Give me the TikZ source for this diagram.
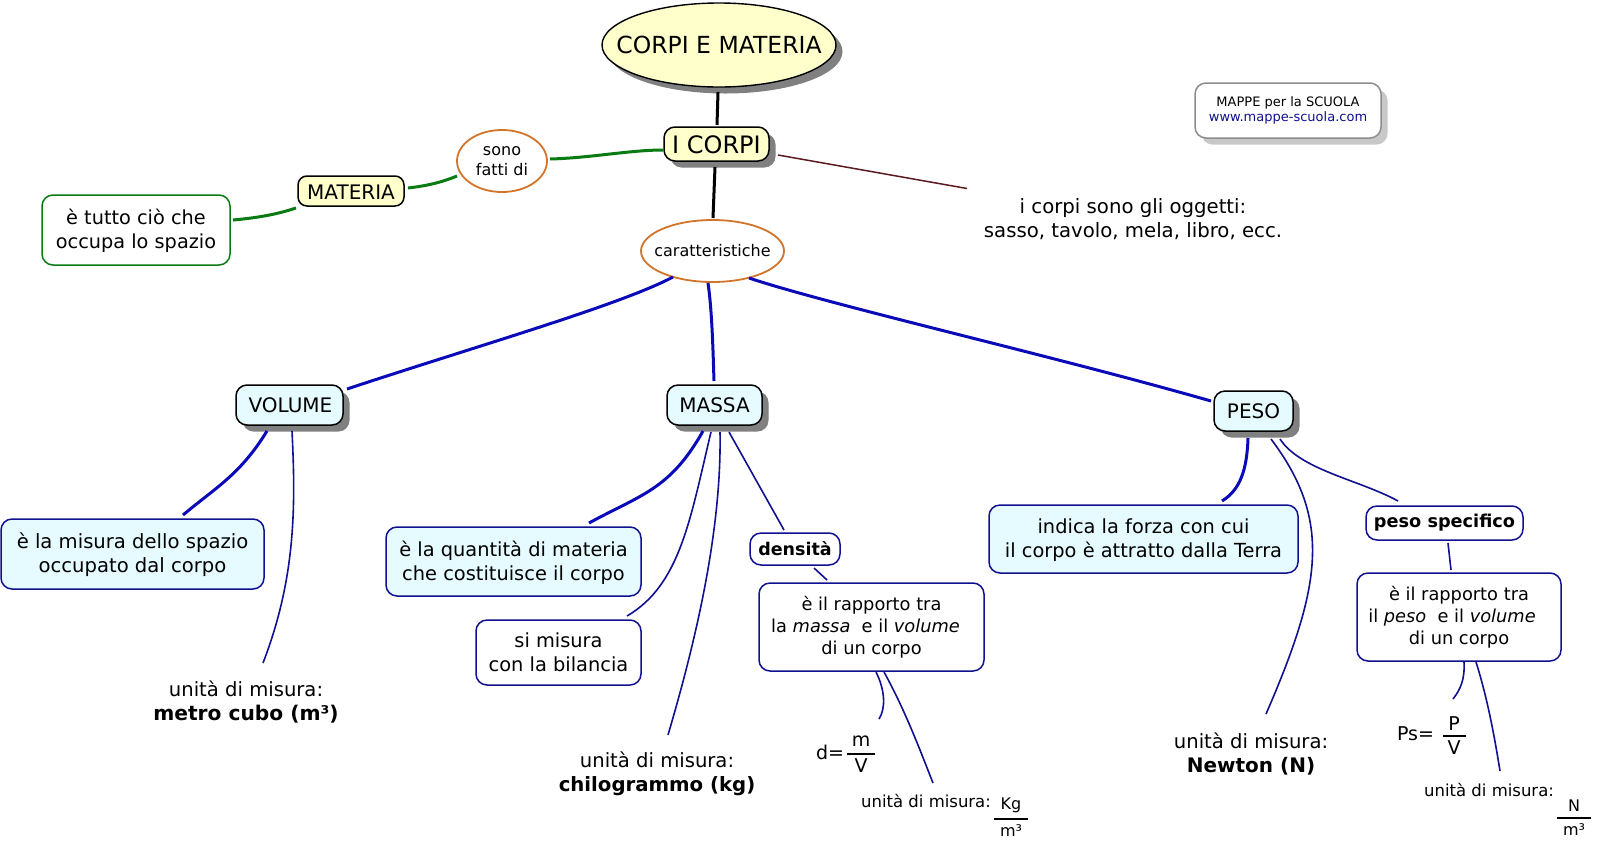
\documentclass[tikz,border=0pt]{standalone}
\usepackage{fontspec}
\setmainfont{DejaVu Sans}
\usetikzlibrary{calc,shapes.geometric,shadows}
\definecolor{lyellow}{HTML}{FFFFCC}
\definecolor{lblue}{HTML}{E5FBFF}
\definecolor{orangeb}{HTML}{D2742A}
\definecolor{greenb}{HTML}{0A7A12}
\definecolor{blueb}{HTML}{0A0AB8}
\definecolor{navyb}{HTML}{101090}
\definecolor{redb}{HTML}{5A1A20}
\definecolor{shadowg}{HTML}{808080}
\definecolor{shadowl}{HTML}{C8C8C8}
\newcommand{\dn}{\rule{0pt}{17.5pt}}
\tikzset{
  base/.style={inner sep=0pt,outer sep=0pt,align=center,text=black},
  fs/.style={font=\fontsize{#1}{24}\selectfont},
  fsr/.style={font=\fontsize{17.8}{22}\selectfont},
  shad/.style={general shadow={shadow xshift=6.5pt,shadow yshift=-6.5pt,fill=shadowg}},
  shadl/.style={general shadow={shadow xshift=6.5pt,shadow yshift=-6.5pt,fill=shadowl}},
  rbox/.style={base,rectangle,rounded corners=11pt,line width=1.5pt},
  oval/.style={base,ellipse,inner xsep=-25pt,line width=1.8pt,draw=orangeb,fill=white},
  plain/.style={base},
  yellowbox/.style={rbox,draw=black,fill=lyellow},
  bluebox/.style={rbox,draw=navyb,fill=lblue},
  whitebox/.style={rbox,draw=navyb,fill=white},
  thickk/.style={line width=3pt,draw=black},
  greenl/.style={line width=3pt,draw=greenb},
  bluel/.style={line width=3pt,draw=blueb},
  thinl/.style={line width=1.6pt,draw=navyb},
  redl/.style={line width=1.5pt,draw=redb},
  fracl/.style={line width=1.2pt,draw=black},
}
\begin{document}
\begin{tikzpicture}[x=1pt,y=-1pt]
\useasboundingbox (0,0) rectangle (1600,847);
% nodes
\node[base,ellipse,inner xsep=-30pt,draw=black,line width=1.4pt,fill=lyellow,shad,minimum width=234,minimum height=84,fs=23.5] (title) at (719,45) {CORPI E MATERIA};
\node[yellowbox,shad,minimum width=105,minimum height=34,fs=24] (corpi) at (716.5,144) {\rule{0pt}{20pt}I CORPI};
\node[oval,minimum width=90,minimum height=62,font=\fontsize{16}{20.5}\selectfont] (sono) at (502,161) {sono\\fatti di};
\node[yellowbox,rounded corners=9pt,minimum width=106,minimum height=30,fs=20] (materia) at (351,191) {\rule{0pt}{16pt}MATERIA};
\node[rbox,draw=greenb,fill=white,minimum width=188,minimum height=70,fs=19.3] (tutto) at (136,230) {\dn è tutto ciò che\\occupa lo spazio};
\node[oval,minimum width=143,minimum height=62,fs=16] (carat) at (712.5,251) {caratteristiche};
\node[plain,minimum width=300,minimum height=50,fs=19.7] (oggetti) at (1133,219.5) {i corpi sono gli oggetti:\\sasso, tavolo, mela, libro, ecc.};
\node[rbox,draw=gray!90,fill=white,shadl,minimum width=186,minimum height=55,font=\fontsize{13}{15.5}\selectfont] (mappe) at (1288,110.5) {MAPPE per la SCUOLA\\\textcolor{navyb}{www.mappe-scuola.com}};
\node[bluebox,draw=black,shad,minimum width=107,minimum height=40,fs=20] (volume) at (289.5,405) {\hspace*{2pt}VOLUME};
\node[bluebox,draw=black,shad,minimum width=95,minimum height=40,fs=20] (massa) at (714.5,405) {MASSA};
\node[bluebox,draw=black,shad,minimum width=79,minimum height=40,fs=20] (peso) at (1253.5,411) {PESO};
\node[bluebox,minimum width=263,minimum height=70,fs=19.6] (misura) at (132.5,554) {\dn è la misura dello spazio\\occupato dal corpo};
\node[bluebox,minimum width=255,minimum height=69,fs=19.4] (quantita) at (513.5,561.5) {\dn è la quantità di materia\\che costituisce il corpo};
\node[whitebox,minimum width=165,minimum height=65,fs=19.4] (bilancia) at (558.5,652.5) {si misura\\con la bilancia};
\node[whitebox,minimum width=90,minimum height=32,fs=17.5] (densita) at (795,549) {\bfseries densità};
\node[whitebox,minimum width=225,minimum height=88,fsr] (rapporto) at (871.5,627) {è il rapporto tra\\la \textit{massa}\ \ e il \textit{volume}\hspace*{12pt}\mbox{}\\di un corpo};
\node[bluebox,minimum width=309,minimum height=68,fs=19.4] (indica) at (1143.5,539) {\dn indica la forza con cui\\il corpo è attratto dalla Terra};
\node[whitebox,minimum width=157,minimum height=34,fs=17.7] (spec) at (1444.5,523) {\bfseries peso specifico};
\node[whitebox,minimum width=204,minimum height=88,fsr] (rapportob) at (1459,617) {è il rapporto tra\\il \textit{peso}\ \ e il \textit{volume}\hspace*{14pt}\mbox{}\\di un corpo};
\node[plain,minimum width=200,minimum height=50,fs=19.6] (unitavol) at (246,701.5) {unità di misura:\\\fontsize{20.2}{24}\bfseries metro cubo (m³)};
\node[plain,minimum width=210,minimum height=50,fs=19.6] (unitamas) at (657,773.5) {unità di misura:\\\fontsize{19.7}{24}\bfseries chilogrammo (kg)};
\node[plain,minimum width=170,minimum height=50,fs=19.6] (unitanew) at (1251,753.5) {unità di misura:\\\fontsize{20}{24}\bfseries Newton (N)};
\node[plain,anchor=east,fs=19] (deq) at (844,752) {d=};
\node[plain,minimum height=20,fs=19] (dm) at (861,741.5) {m};
\node[plain,minimum height=20,fs=19] (dv) at (861,766) {V};
\node[plain,minimum height=20,fs=16.5] (unitad) at (926,801) {unità di misura:};
\node[plain,fs=16] (kg) at (1011,805) {Kg};
\node[plain,fs=16] (km) at (1011,831) {m³};
\node[plain,anchor=east,fs=19] (pseq) at (1434,734) {Ps=};
\node[plain,minimum height=20,fs=19] (pp) at (1454,724) {P};
\node[plain,minimum height=20,fs=19] (pv) at (1454,748) {V};
\node[plain,minimum height=20,fs=16.5] (unitap) at (1489,790) {unità di misura:};
\node[plain,fs=16] (nn) at (1574,806) {N};
\node[plain,fs=16] (nm) at (1574,830) {m³};
% fraction bars
\draw[fracl] (847,754) -- (875,754);
\draw[fracl] (994,819) -- (1028,819);
\draw[fracl] (1443,736) -- (1466,736);
\draw[fracl] (1557,818) -- (1591,818);
% connectors
\draw[thickk] ($(title.south)+(-1,5)$) -- ($(corpi.north)+(0.5,-2)$);
\draw[thickk] ($(corpi.south)+(-1.5,6)$) -- ($(carat.north)+(0.5,-2)$);
\draw[greenl] ($(corpi.west)+(-1,6)$) .. controls (630,150) and (590,158) .. ($(sono.east)+(3,-2)$);
\draw[greenl] ($(sono.west)+(0,15)$) .. controls (440,183) and (425,186) .. ($(materia.east)+(4,-3)$);
\draw[greenl] ($(materia.south west)+(-2,2)$) .. controls (275,215) and (255,218) .. ($(tutto.east)+(3,-10)$);
\draw[redl] ($(corpi.east)+(9,11)$) -- ($(oggetti.north west)+(-16,-6)$);
\draw[bluel] ($(carat.south)+(-39.5,-5)$) .. controls (620,305) and (480,345) .. ($(volume.east)+(4,-16)$);
\draw[bluel] ($(carat.south)+(-4.5,1)$) .. controls (712,310) and (713,350) .. ($(massa.north)+(-0.5,-4)$);
\draw[bluel] ($(carat.south)+(36.5,-4)$) .. controls (830,305) and (1050,355) .. ($(peso.west)+(-3,-10)$);
\draw[bluel] ($(volume.south)+(-22.5,6)$) .. controls (240,475) and (215,488) .. ($(misura.north)+(50.5,-4)$);
\draw[thinl] ($(volume.south)+(2.5,6)$) .. controls (296,510) and (295,580) .. ($(unitavol.north)+(17,-13.5)$);
\draw[bluel] ($(massa.south)+(-11.5,6)$) .. controls (670,490) and (640,495) .. ($(quantita.north)+(75.5,-4)$);
\draw[thinl] ($(massa.south)+(-3.5,7)$) .. controls (690,520) and (680,585) .. ($(bilancia.north)+(68.5,-4)$);
\draw[thinl] ($(massa.south)+(5.5,7)$) .. controls (722,540) and (690,660) .. ($(unitamas.north)+(11,-13.5)$);
\draw[thinl] ($(massa.south)+(14.5,7)$) -- ($(densita.north)+(-11,-3)$);
\draw[thinl] ($(densita.south)+(19,3)$) -- ($(rapporto.north)+(-44.5,-3)$);
\draw[thinl] ($(rapporto.south)+(4.5,1)$) .. controls (885,690) and (886,708) .. ($(dm.north)+(18,-12.5)$);
\draw[thinl] ($(rapporto.south)+(12.5,1)$) .. controls (905,710) and (920,750) .. ($(unitad.north)+(7,-8)$);
\draw[bluel] ($(peso.south)+(-5.5,7)$) .. controls (1247,470) and (1240,490) .. ($(indica.north)+(78.5,-4)$);
\draw[thinl] ($(peso.south)+(17.5,8)$) .. controls (1332,520) and (1322,585) .. ($(unitanew.north)+(15,-14.5)$);
\draw[thinl] ($(peso.south)+(26.5,8)$) .. controls (1300,470) and (1360,480) .. ($(spec.north)+(-46.5,-5)$);
\draw[thinl] ($(spec.south)+(3.5,3)$) -- ($(rapportob.north)+(-8,-3)$);
\draw[thinl] ($(rapportob.south)+(5,1)$) .. controls (1465,680) and (1460,690) .. ($(pp.north)+(-1,-15)$);
\draw[thinl] ($(rapportob.south)+(17,1)$) .. controls (1488,700) and (1495,740) .. ($(unitap.north)+(11,-9)$);
\end{tikzpicture}
\end{document}
